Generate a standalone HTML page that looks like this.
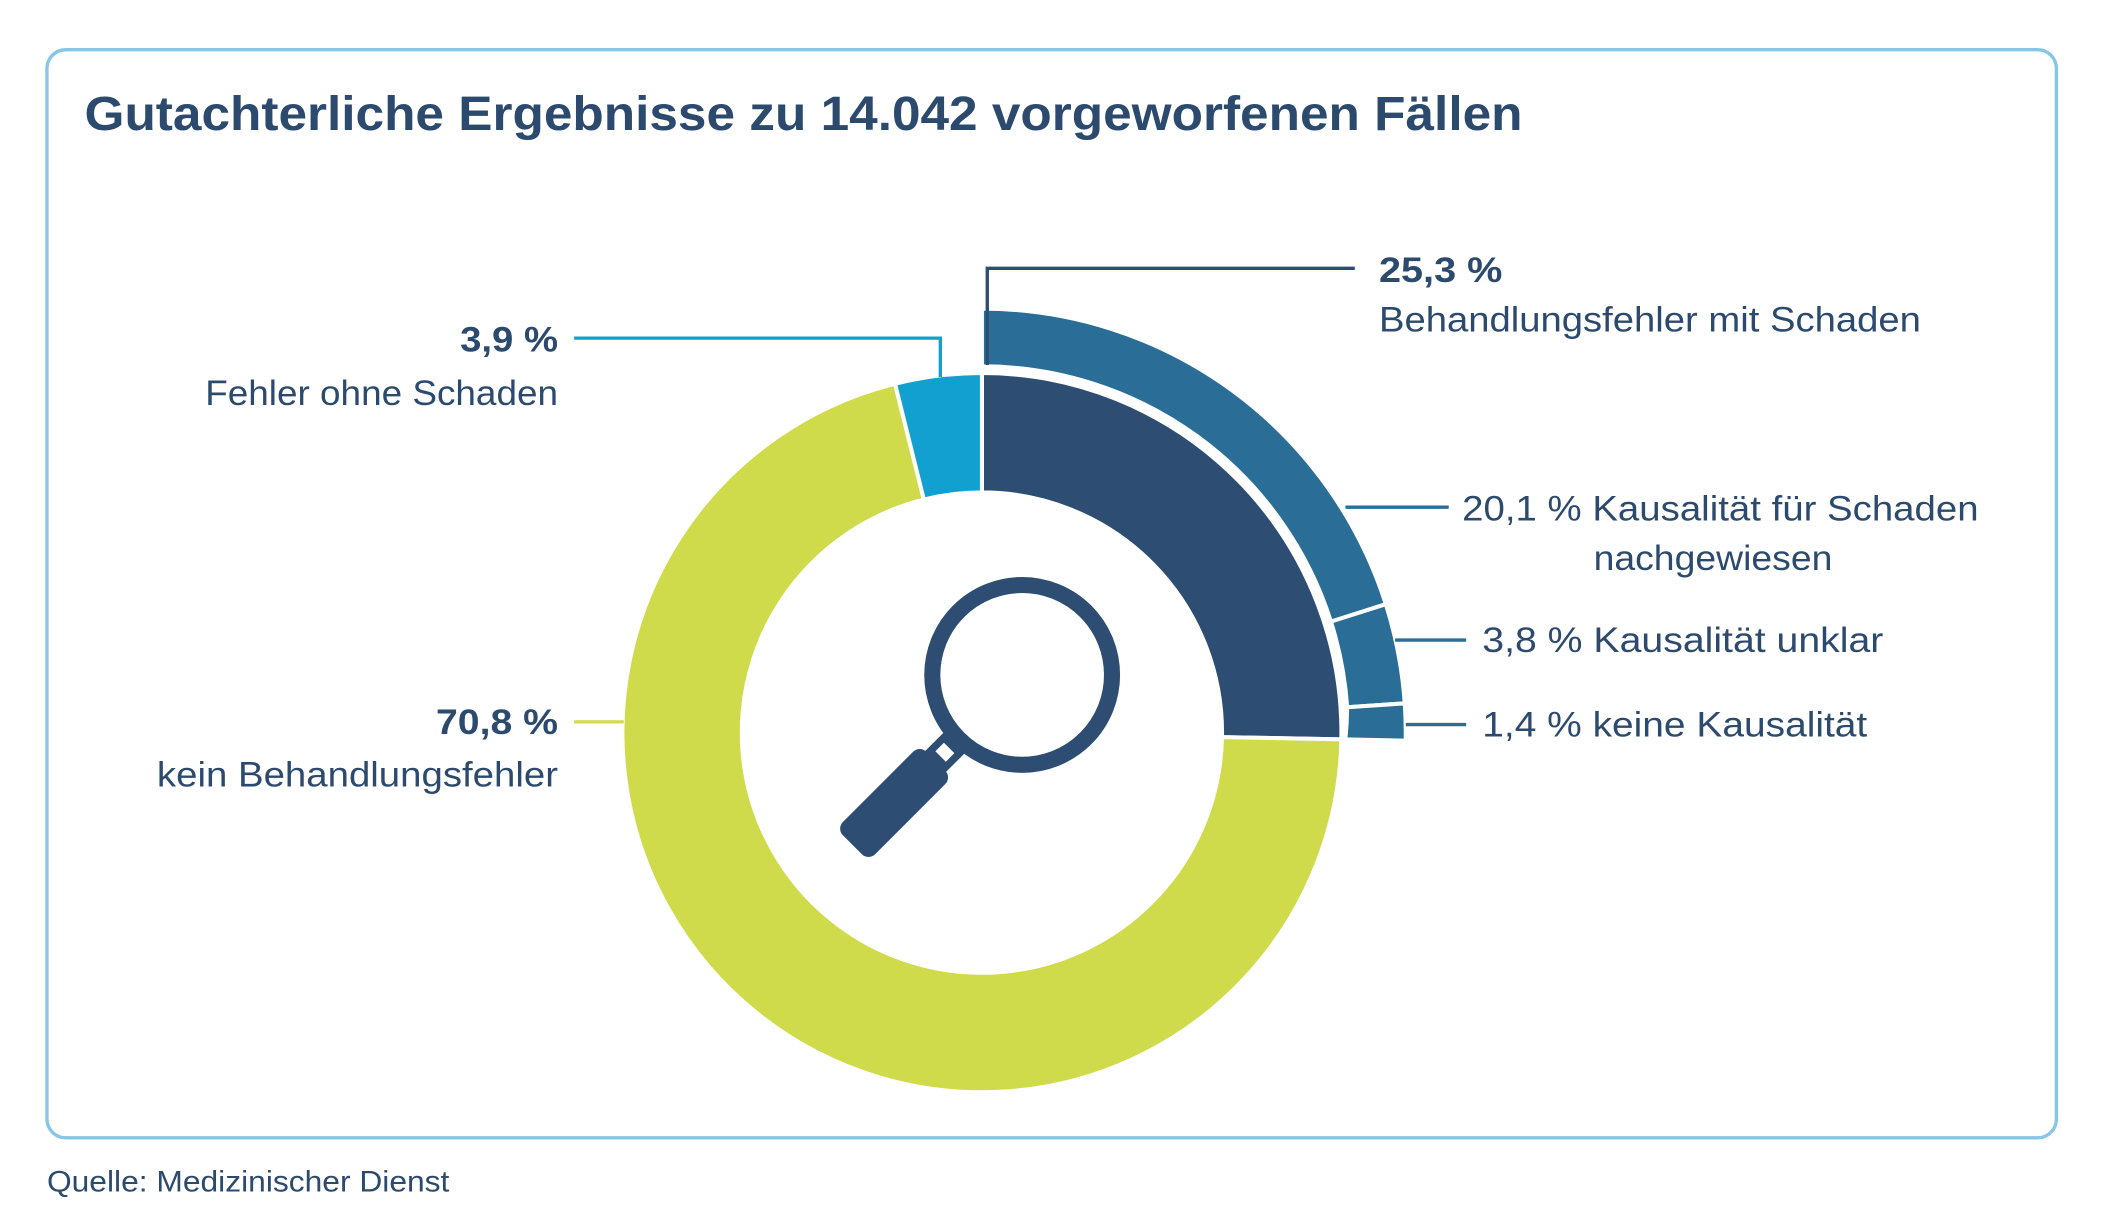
<!DOCTYPE html>
<html><head><meta charset="utf-8"><style>
html,body{margin:0;padding:0;background:#fff;}
svg{display:block;}
text{font-family:"Liberation Sans",sans-serif;fill:#2c4a6e;}
</style></head><body>
<svg width="2102" height="1221" viewBox="0 0 1567 910" preserveAspectRatio="none" xmlns="http://www.w3.org/2000/svg">
<rect x="35" y="37" width="1498" height="811" rx="14" fill="#fff" stroke="#86c6e6" stroke-width="2.5"/>
<text x="63" y="97" font-size="36" font-weight="bold" textLength="1072" lengthAdjust="spacingAndGlyphs">Gutachterliche Ergebnisse zu 14.042 vorgeworfenen Fällen</text>

<g stroke="#fff" stroke-width="3" stroke-linejoin="miter">
<path d="M732,278 A268,268 0 0 1 999.95,551.05 L910.97,549.37 A179,179 0 0 0 732,367 Z" fill="#2d4e72"/>
<path d="M999.95,551.05 A268,268 0 1 1 667.2,286 L688.7,372.3 A179,179 0 1 0 910.97,549.37 Z" fill="#cfdb4a"/>
<path d="M667.2,286 A268,268 0 0 1 732,278 L732,367 A179,179 0 0 0 688.7,372.3 Z" fill="#12a0d0"/>
<path d="M732,230 A316,316 0 0 1 1033.1,450.3 L992.2,463.3 A273,273 0 0 0 732,273 Z" fill="#2a6e98"/>
<path d="M1033.1,450.3 A316,316 0 0 1 1047.2,524.2 L1004.3,527.1 A273,273 0 0 0 992.2,463.3 Z" fill="#2a6e98"/>
<path d="M1047.2,524.2 A316,316 0 0 1 1047.9,552 L1002.95,551.1 A273,273 0 0 0 1004.3,527.1 Z" fill="#2a6e98"/>
</g>

<!-- magnifier -->
<circle cx="762" cy="503" r="67" fill="none" stroke="#2d4e72" stroke-width="12"/>
<g transform="translate(762,503) rotate(135)">
<rect x="68" y="-11" width="26" height="22" fill="#2d4e72"/>
<rect x="77" y="-5.5" width="9" height="11" fill="#fff"/>
<rect x="91" y="-17" width="88" height="34" rx="7" fill="#2d4e72"/>
</g>

<!-- leader lines -->
<g fill="none" stroke-width="2.5">
<polyline points="736,272 736,200 1010,200" stroke="#2d4e72"/>
<polyline points="701,281 701,252 428,252" stroke="#12a0d0"/>
<line x1="1003" y1="378" x2="1080" y2="378" stroke="#2a6e98"/>
<line x1="1040" y1="477" x2="1093" y2="477" stroke="#2a6e98"/>
<line x1="1048" y1="540" x2="1093" y2="540" stroke="#2a6e98"/>
<line x1="428" y1="538" x2="465" y2="538" stroke="#cfdb4a"/>
</g>

<g font-size="26">
<text x="1028" y="210" font-weight="bold" textLength="92" lengthAdjust="spacingAndGlyphs">25,3 %</text>
<text x="1028" y="247" textLength="404" lengthAdjust="spacingAndGlyphs">Behandlungsfehler mit Schaden</text>
<text x="343" y="262" font-weight="bold" textLength="73" lengthAdjust="spacingAndGlyphs">3,9 %</text>
<text x="153" y="302" textLength="263" lengthAdjust="spacingAndGlyphs">Fehler ohne Schaden</text>
<text x="1090" y="388" textLength="385" lengthAdjust="spacingAndGlyphs">20,1 % Kausalität für Schaden</text>
<text x="1188" y="425" textLength="178" lengthAdjust="spacingAndGlyphs">nachgewiesen</text>
<text x="1105" y="486" textLength="299" lengthAdjust="spacingAndGlyphs">3,8 % Kausalität unklar</text>
<text x="1105" y="549" textLength="287" lengthAdjust="spacingAndGlyphs">1,4 % keine Kausalität</text>
<text x="325" y="547" font-weight="bold" textLength="91" lengthAdjust="spacingAndGlyphs">70,8 %</text>
<text x="117" y="586" textLength="299" lengthAdjust="spacingAndGlyphs">kein Behandlungsfehler</text>
</g>
<text x="35" y="888" font-size="22" textLength="300" lengthAdjust="spacingAndGlyphs">Quelle: Medizinischer Dienst</text>
</svg>
</body></html>
